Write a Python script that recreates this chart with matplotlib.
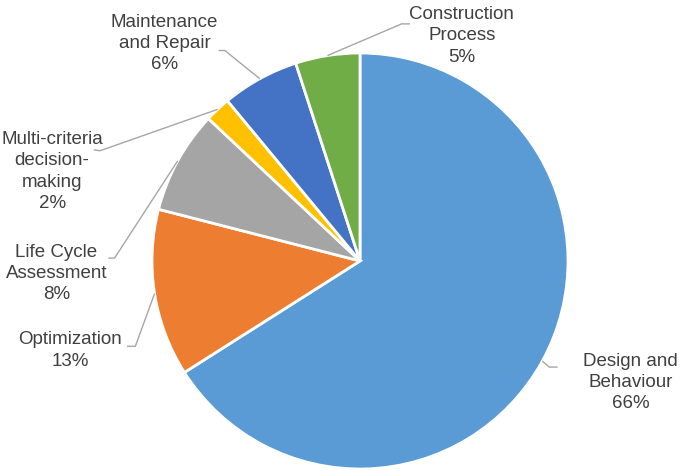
import numpy as np
from matplotlib import pyplot as plt

plt.rcParams['font.family'] = ['Liberation Sans', 'DejaVu Sans']

# topics of the reviewed papers, share in percent
topics = ["Design and\nBehaviour", "Optimization", "Life Cycle\nAssessment",
          "Multi-criteria\ndecision-\nmaking", "Maintenance\nand Repair",
          "Construction\nProcess"]
shares = [66, 13, 8, 2, 6, 5]
colors = ["#5B9BD5", "#ED7D31", "#A5A5A5", "#FFC000", "#4472C4", "#70AD47"]

# label centres and leader elbows (data units, pie radius = 1)
label_pos = [(1.30, -0.585), (-1.395, -0.43), (-1.46, -0.06),
             (-1.48, 0.43), (-0.94, 1.045), (0.49, 1.082)]
elbows = [[(0.91, -0.51), (0.95, -0.51)],
          [(-1.08, -0.41), (-1.12, -0.41)],
          [(-1.18, 0.014), (-1.21, 0.014)],
          [(-1.25, 0.53), (-1.28, 0.535)],
          [(-0.65, 1.012), (-0.68, 1.012)],
          [(0.2, 1.14), (0.24, 1.14)]]

fig = plt.figure(figsize=(6.81, 4.70), dpi=100)
ax = fig.add_axes([0, 0, 1, 1])

wedges, _ = ax.pie(shares, colors=colors, startangle=90, counterclock=False,
                   radius=1.0, center=(0, 0),
                   wedgeprops=dict(edgecolor="white", linewidth=2))

for w, name, share, pos, elb in zip(wedges, topics, shares, label_pos, elbows):
    mid = np.deg2rad((w.theta1 + w.theta2) / 2)
    x0, y0 = np.cos(mid), np.sin(mid)
    xs = [x0] + [p[0] for p in elb]
    ys = [y0] + [p[1] for p in elb]
    ax.plot(xs, ys, color="#A6A6A6", lw=1, solid_capstyle="butt")
    ax.text(pos[0], pos[1], f"{name}\n{share}%", ha="center", va="center",
            fontsize=13.5, color="#404040", linespacing=1.33)

ax.set_xlim(-360 / 208, 321 / 208)
ax.set_ylim(-209 / 208, 261 / 208)
ax.set_aspect("auto")
ax.axis("off")

fig.savefig("out.png", dpi=100)
